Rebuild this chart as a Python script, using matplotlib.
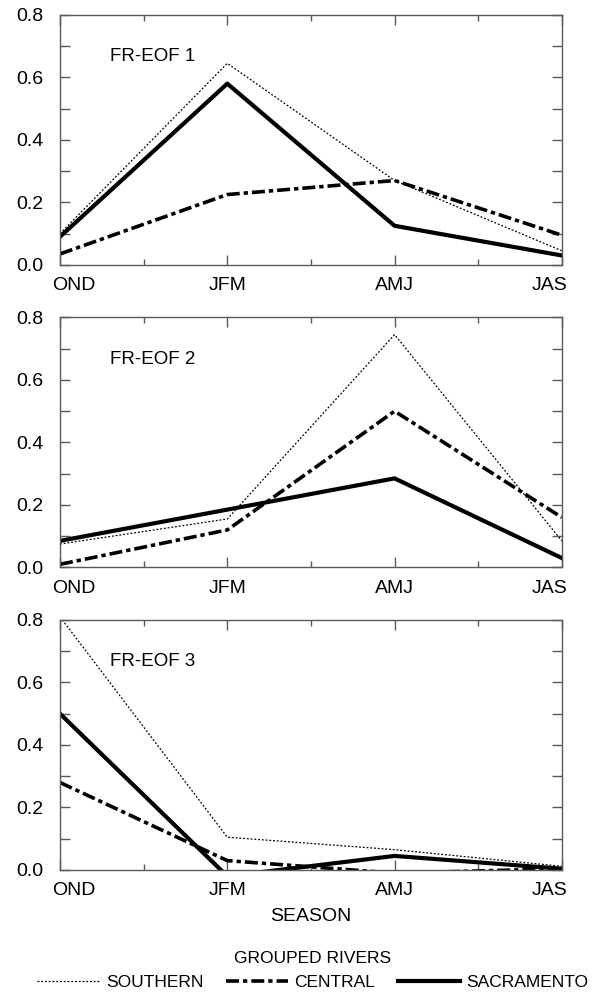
import numpy as np
import matplotlib
matplotlib.use("Agg")
import matplotlib.pyplot as plt
from matplotlib.ticker import MultipleLocator, FormatStrFormatter
from matplotlib.transforms import ScaledTranslation

plt.rcParams['font.family'] = ['Liberation Sans', 'DejaVu Sans']

seasons = ["OND", "JFM", "AMJ", "JAS"]
panel_labels = ["FR-EOF 1", "FR-EOF 2", "FR-EOF 3"]

southern = [
    [0.10, 0.645, 0.27, 0.045],
    [0.075, 0.155, 0.745, 0.085],
    [0.81, 0.105, 0.065, 0.012],
]
central = [
    [0.035, 0.225, 0.27, 0.095],
    [0.01, 0.12, 0.50, 0.16],
    [0.28, 0.03, -0.01, 0.004],
]
sacramento = [
    [0.09, 0.58, 0.125, 0.03],
    [0.085, 0.185, 0.285, 0.03],
    [0.50, -0.02, 0.045, 0.004],
]

fig = plt.figure(figsize=(5.96, 9.92), dpi=100)
bottoms = [0.733, 0.428, 0.123]
x = np.arange(len(seasons))
gray = '#5a5a5a'

for i in range(3):
    ax = fig.add_axes([0.1007, bottoms[i], 0.842, 0.252])
    l1, = ax.plot(x, southern[i], color='black', lw=0.9, linestyle=(0, (1.5, 1.5)),
                  label='SOUTHERN')
    l2, = ax.plot(x, central[i], color='black', lw=2.6, linestyle=(0, (3.6, 1.1, 1.2, 1.1)),
                  label='CENTRAL')
    l3, = ax.plot(x, sacramento[i], color='black', lw=3.0, label='SACRAMENTO')
    ax.set_xlim(0, 3)
    ax.set_ylim(0, 0.8)
    ax.set_xticks(x)
    ax.set_xticklabels(seasons)
    ax.xaxis.set_minor_locator(MultipleLocator(0.5))
    ax.yaxis.set_major_locator(MultipleLocator(0.2))
    ax.yaxis.set_minor_locator(MultipleLocator(0.1))
    ax.yaxis.set_major_formatter(FormatStrFormatter('%.1f'))
    ax.tick_params(which='both', direction='in', top=True, right=True,
                   length=7, width=1, color=gray, labelsize=14)
    ax.tick_params(axis='x', which='minor', length=4)
    ax.tick_params(axis='x', pad=9)
    ax.tick_params(axis='y', pad=12)
    # end labels sit inside the frame a little, as in the original
    labs = ax.get_xticklabels()
    labs[0].set_transform(labs[0].get_transform() + ScaledTranslation(10 / 72, 0, fig.dpi_scale_trans))
    labs[-1].set_transform(labs[-1].get_transform() + ScaledTranslation(-9 / 72, 0, fig.dpi_scale_trans))
    for s in ax.spines.values():
        s.set_color(gray)
        s.set_linewidth(1)
    ax.text(0.10, 0.832, panel_labels[i], transform=ax.transAxes, fontsize=13.5,
            ha='left', va='center')
    if i == 2:
        ax.set_xlabel('SEASON', fontsize=14, labelpad=6)
        handles = [l1, l2, l3]

leg = fig.legend(handles, ['SOUTHERN', 'CENTRAL', 'SACRAMENTO'], loc='lower center',
                 bbox_to_anchor=(0.525, -0.01), ncol=3, frameon=False, fontsize=12.5,
                 title='GROUPED RIVERS', title_fontsize=12.5, handlelength=3.6,
                 columnspacing=1.3, handletextpad=0.35, borderpad=0.2)

fig.savefig('out.png', dpi=100)
